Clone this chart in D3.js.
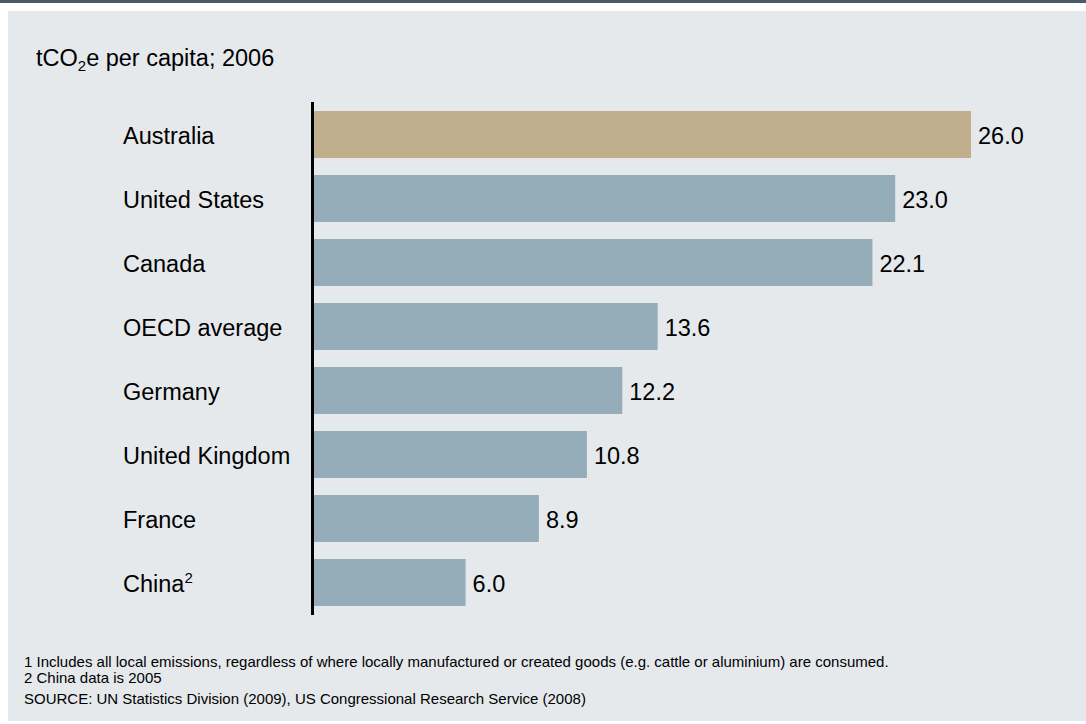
<!DOCTYPE html>
<html>
<head>
<meta charset="utf-8">
<script src="https://cdn.jsdelivr.net/npm/d3@7"></script>
<style>
  html, body { margin: 0; padding: 0; background: #ffffff; }
  svg { display: block; font-family: "Liberation Sans", Arial, sans-serif; }
</style>
</head>
<body>
<svg id="chart" width="1086" height="724"></svg>
<script>
const categories = ["Australia", "United States", "Canada", "OECD average", "Germany", "United Kingdom", "France", "China"];
const superscripts = ["", "", "", "", "", "", "", "2"];
const values = [26.0, 23.0, 22.1, 13.6, 12.2, 10.8, 8.9, 6.0];
const highlight = ["Australia"];
const footnotes = [
  "1 Includes all local emissions, regardless of where locally manufactured or created goods (e.g. cattle or aluminium) are consumed.",
  "2 China data is 2005"
];
const source = "SOURCE: UN Statistics Division (2009), US Congressional Research Service (2008)";

const W = 1086, H = 724;
const svg = d3.select("#chart");

// top rule and panel
svg.append("rect").attr("x", 0).attr("y", 0).attr("width", W).attr("height", 3).attr("fill", "#4b5b66");
svg.append("rect").attr("x", 8).attr("y", 11).attr("width", W - 8).attr("height", 710).attr("fill", "#e5e9ec");

// title
const title = svg.append("text").attr("x", 36).attr("y", 66).attr("font-size", 23.5).attr("fill", "#000");
title.append("tspan").text("tCO");
title.append("tspan").attr("font-size", 15).attr("dy", 5).text("2");
title.append("tspan").attr("dy", -5).text("e per capita; 2006");

const x = d3.scaleLinear().domain([0, 26]).range([314, 971]);
const y = d3.scaleBand().domain(categories).range([111, 606]).paddingInner(17 / 64).paddingOuter(0);

const data = categories.map((c, i) => ({ c, v: values[i], sup: superscripts[i] }));

svg.append("g").selectAll("rect").data(data).join("rect")
  .attr("x", x(0))
  .attr("y", d => y(d.c))
  .attr("width", d => x(d.v) - x(0))
  .attr("height", y.bandwidth())
  .attr("fill", d => highlight.includes(d.c) ? "#c0ae8d" : "#95adb8");

// value labels
svg.append("g").selectAll("text").data(data).join("text")
  .attr("x", d => x(d.v) + 7)
  .attr("y", d => y(d.c) + y.bandwidth() / 2 + 9)
  .attr("font-size", 23.5)
  .attr("fill", "#000")
  .text(d => d.v.toFixed(1));

// category labels
const cl = svg.append("g").selectAll("text").data(data).join("text")
  .attr("x", 123)
  .attr("y", d => y(d.c) + y.bandwidth() / 2 + 9)
  .attr("font-size", 23.5)
  .attr("fill", "#000");
cl.append("tspan").text(d => d.c);
cl.append("tspan").attr("font-size", 15).attr("dy", -9).text(d => d.sup);

// axis line (y-axis with no ticks)
const yAxis = d3.axisLeft(y).tickSize(0).tickFormat("");
const ag = svg.append("g").attr("transform", `translate(${x(0) - 1.5},0)`).call(yAxis);
ag.select(".domain").remove();
svg.append("line")
  .attr("x1", x(0) - 1.5).attr("x2", x(0) - 1.5)
  .attr("y1", 102).attr("y2", 615)
  .attr("stroke", "#000").attr("stroke-width", 3);

// footnotes
svg.append("g").selectAll("text").data(footnotes).join("text")
  .attr("x", 24)
  .attr("y", (d, i) => 667 + i * 16)
  .attr("font-size", 15)
  .attr("fill", "#000")
  .text(d => d);
svg.append("text").attr("x", 24).attr("y", 704).attr("font-size", 15).attr("fill", "#000").text(source);
</script>
</body>
</html>
